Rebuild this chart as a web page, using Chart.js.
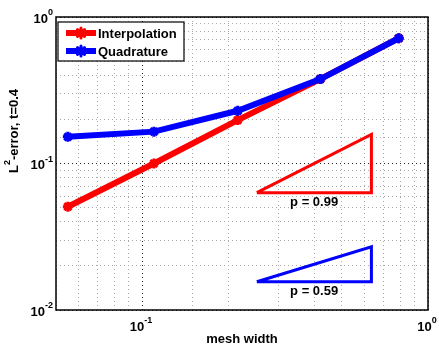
<!DOCTYPE html>
<html>
<head>
<meta charset="utf-8">
<script src="https://cdn.jsdelivr.net/npm/chart.js@4.4.1/dist/chart.umd.min.js"></script>
<style>
html,body{margin:0;padding:0;background:#fff;}
#wrap{width:439px;height:346px;position:relative;}
</style>
</head>
<body>
<div id="wrap"><canvas id="c" width="439" height="346"></canvas></div>
<script>
// ---- data ----
const meshWidth = [0.055, 0.11, 0.216, 0.42, 0.79];
const interpolationError = [0.0507, 0.100, 0.198, 0.377, 0.716];
const quadratureError = [0.152, 0.165, 0.229, 0.377, 0.716];
const seriesLabels = ['Interpolation', 'Quadrature'];
const seriesColors = ['#ff0000', '#0000ff'];

// slope triangles: [x_left, x_right], [y_bottom, y_top]
const triangleX = [0.252, 0.634];
const triInterpY = [0.0632, 0.158];
const triQuadY = [0.0156, 0.0270];
const slopeLabels = ['p = 0.99', 'p = 0.59'];

const xTickValues = [0.1, 1];
const xTickExps = ['-1', '0'];
const yTickValues = [0.01, 0.1, 1];
const yTickExps = ['-2', '-1', '0'];
const xTitle = 'mesh width';
const yTitleBase = 'L';
const yTitleSup = '2';
const yTitleRest = '-error, t=0.4';

const FONT = 'Liberation Sans, Arial, Helvetica, sans-serif';

function pts(xs, ys) { return xs.map((x, i) => ({x: x, y: ys[i]})); }
function tri(xs, ys) {
  return [{x: xs[0], y: ys[0]}, {x: xs[1], y: ys[0]}, {x: xs[1], y: ys[1]}, {x: xs[0], y: ys[0]}];
}
function isMajor(v) {
  const l = Math.log10(v);
  return Math.abs(l - Math.round(l)) < 1e-6;
}

const decor = {
  id: 'decor',
  afterDraw(chart) {
    const ctx = chart.ctx;
    const a = chart.chartArea;
    const xs = chart.scales.x, ys = chart.scales.y;
    ctx.save();
    // box
    ctx.strokeStyle = '#000';
    ctx.lineWidth = 1.5;
    ctx.setLineDash([]);
    ctx.strokeRect(a.left, a.top, a.right - a.left, a.bottom - a.top);

    // tick labels with superscripts
    ctx.fillStyle = '#000';
    function supLabel(base, exp, x, y, align) {
      ctx.font = 'bold 13px ' + FONT;
      const wb = ctx.measureText(base).width;
      ctx.font = 'bold 9px ' + FONT;
      const we = ctx.measureText(exp).width;
      const total = wb + we;
      let x0 = x;
      if (align === 'center') x0 = x - total / 2;
      else if (align === 'right') x0 = x - total;
      ctx.textBaseline = 'middle';
      ctx.textAlign = 'left';
      ctx.font = 'bold 13px ' + FONT;
      ctx.fillText(base, x0, y);
      ctx.font = 'bold 9px ' + FONT;
      ctx.fillText(exp, x0 + wb, y - 6);
    }
    xTickValues.forEach((v, i) => {
      supLabel('10', xTickExps[i], xs.getPixelForValue(v) - 1, a.bottom + 17, 'center');
    });
    yTickValues.forEach((v, i) => {
      supLabel('10', yTickExps[i], a.left - 3, ys.getPixelForValue(v) + 2, 'right');
    });

    // axis titles
    ctx.font = 'bold 13px ' + FONT;
    ctx.textAlign = 'center';
    ctx.textBaseline = 'middle';
    ctx.fillText(xTitle, (a.left + a.right) / 2, a.bottom + 29);

    ctx.save();
    ctx.translate(14, 131);
    ctx.rotate(-Math.PI / 2);
    ctx.font = 'bold 13px ' + FONT;
    const w1 = ctx.measureText(yTitleBase).width;
    const w3 = ctx.measureText(yTitleRest).width;
    ctx.font = 'bold 9px ' + FONT;
    const w2 = ctx.measureText(yTitleSup).width;
    const tot = w1 + w2 + w3;
    let x0 = -tot / 2;
    ctx.textAlign = 'left';
    ctx.font = 'bold 13px ' + FONT;
    ctx.fillText(yTitleBase, x0, 0);
    ctx.font = 'bold 9px ' + FONT;
    ctx.fillText(yTitleSup, x0 + w1, -6);
    ctx.font = 'bold 13px ' + FONT;
    ctx.fillText(yTitleRest, x0 + w1 + w2, 0);
    ctx.restore();

    // slope labels
    ctx.font = 'bold 13px ' + FONT;
    ctx.textAlign = 'center';
    ctx.textBaseline = 'middle';
    const cx = (xs.getPixelForValue(triangleX[0]) + xs.getPixelForValue(triangleX[1])) / 2;
    ctx.fillText(slopeLabels[0], cx, ys.getPixelForValue(triInterpY[0]) + 10);
    ctx.fillText(slopeLabels[1], cx, ys.getPixelForValue(triQuadY[0]) + 10);

    // legend
    const lx = a.left + 2, ly = a.top + 5, lw = 126, lh = 39;
    ctx.fillStyle = '#fff';
    ctx.fillRect(lx, ly, lw, lh);
    ctx.strokeStyle = '#000';
    ctx.lineWidth = 1.2;
    ctx.strokeRect(lx, ly, lw, lh);
    seriesLabels.forEach((lab, i) => {
      const yy = ly + 11 + i * 18;
      ctx.strokeStyle = seriesColors[i];
      ctx.lineWidth = 6;
      ctx.lineCap = 'butt';
      ctx.beginPath();
      ctx.moveTo(lx + 8, yy);
      ctx.lineTo(lx + 38, yy);
      ctx.stroke();
      // star marker
      const mx = lx + 23, r = 5;
      ctx.lineWidth = 3;
      ctx.lineCap = 'round';
      ctx.beginPath();
      ctx.moveTo(mx - r, yy); ctx.lineTo(mx + r, yy);
      ctx.moveTo(mx, yy - r); ctx.lineTo(mx, yy + r);
      const d = r * 0.7;
      ctx.moveTo(mx - d, yy - d); ctx.lineTo(mx + d, yy + d);
      ctx.moveTo(mx - d, yy + d); ctx.lineTo(mx + d, yy - d);
      ctx.stroke();
      ctx.fillStyle = '#000';
      ctx.font = 'bold 13px ' + FONT;
      ctx.textAlign = 'left';
      ctx.textBaseline = 'middle';
      ctx.fillText(lab, lx + 40, yy + 1);
    });
    ctx.restore();
  }
};

const gridColor = (c) => (c.tick && isMajor(c.tick.value)) ? '#222' : '#aaa';

new Chart(document.getElementById('c'), {
  type: 'line',
  data: {
    datasets: [
      {
        label: seriesLabels[0], data: pts(meshWidth, interpolationError),
        borderColor: seriesColors[0], backgroundColor: seriesColors[0],
        borderWidth: 6, pointStyle: 'star', pointRadius: 5, pointBorderWidth: 3,
        pointBorderColor: seriesColors[0], order: 2, tension: 0
      },
      {
        label: seriesLabels[1], data: pts(meshWidth, quadratureError),
        borderColor: seriesColors[1], backgroundColor: seriesColors[1],
        borderWidth: 6, pointStyle: 'star', pointRadius: 5, pointBorderWidth: 3,
        pointBorderColor: seriesColors[1], order: 1, tension: 0
      },
      {
        label: 'slope-interp', data: tri(triangleX, triInterpY),
        borderColor: seriesColors[0], borderWidth: 3, pointRadius: 0,
        order: 3, tension: 0, borderJoinStyle: 'miter'
      },
      {
        label: 'slope-quad', data: tri(triangleX, triQuadY),
        borderColor: seriesColors[1], borderWidth: 3, pointRadius: 0,
        order: 3, tension: 0, borderJoinStyle: 'miter'
      }
    ]
  },
  options: {
    responsive: false,
    animation: false,
    devicePixelRatio: 1,
    layout: {padding: {left: 56, right: 11, top: 17, bottom: 36}},
    plugins: {legend: {display: false}, tooltip: {enabled: false}},
    scales: {
      x: {
        type: 'logarithmic', min: 0.05, max: 1,
        ticks: {display: false},
        grid: {color: gridColor, lineWidth: 1, drawTicks: false},
        border: {display: false, dash: [1, 3]},
        afterFit: (s) => { s.height = 0; }
      },
      y: {
        type: 'logarithmic', min: 0.01, max: 1,
        ticks: {display: false},
        grid: {color: gridColor, lineWidth: 1, drawTicks: false},
        border: {display: false, dash: [1, 3]},
        afterFit: (s) => { s.width = 0; }
      }
    }
  },
  plugins: [decor]
});
</script>
</body>
</html>
